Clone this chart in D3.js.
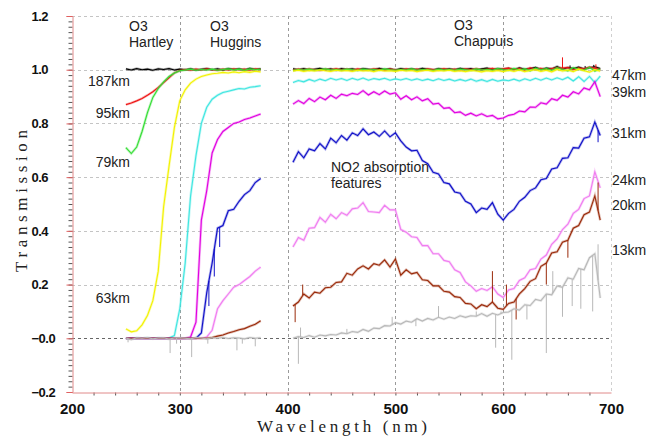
<!DOCTYPE html>
<html>
<head>
<meta charset="utf-8">
<script src="https://cdn.jsdelivr.net/npm/d3@7"></script>
<style>
    body { margin: 0; background: #fff; }
    svg { display: block; font-family: "Liberation Sans", Arial, sans-serif; }
</style>
</head>
<body>
<div id="chart"></div>
<script>
// sampling grid of the two spectrometer channels (nm)
let uvWavelengths = [250, 255, 260, 265, 270, 275, 280, 285, 290, 295, 300, 305, 310,
    315, 320, 325, 330, 335, 340, 345, 350, 355, 360, 365, 370, 375];
let visWavelengths = [405, 410, 415, 420, 425, 430, 435, 440, 445, 450,
    455, 460, 465, 470, 475, 480, 485, 490, 495, 500,
    505, 510, 515, 520, 525, 530, 535, 540, 545, 550,
    555, 560, 565, 570, 575, 580, 585, 590, 595, 600,
    605, 610, 615, 620, 625, 630, 635, 640, 645, 650,
    655, 660, 665, 670, 675, 680, 685, 690];

// transmission per tangent altitude
let t187Uv = [1.003, 0.999, 1.004, 1.0, 1.002, 0.998, 1.003, 1.001, 1.004, 0.999, 1.002, 1.0, 1.003,
    0.999, 1.002, 1.004, 1.0, 1.003, 0.999, 1.004, 1.001, 1.003, 0.999, 1.005, 1.001, 1.003];
let t187Vis = [1.003, 1.0, 1.004, 0.999, 1.002, 1.005, 1.0, 1.003, 0.998, 1.004,
    1.001, 1.003, 0.999, 1.004, 1.002, 1.0, 1.005, 1.001, 1.003, 0.999,
    1.004, 1.001, 1.003, 1.0, 1.005, 1.002, 0.999, 1.004, 1.001, 1.003,
    1.0, 1.005, 1.002, 1.004, 0.999, 1.003, 1.006, 1.0, 1.004, 1.002,
    1.005, 1.0, 1.007, 1.002, 1.004, 1.009, 1.001, 1.006, 1.003, 1.012,
    1.002, 1.008, 1.004, 1.01, 1.003, 1.007, 1.011, 1.004];

let t95Uv = [0.87, 0.876, 0.884, 0.893, 0.905, 0.918, 0.934, 0.952, 0.97, 0.988, 0.997, 1.001, 0.998,
    1.002, 0.999, 1.003, 1.0, 0.998, 1.002, 0.999, 1.003, 1.0, 1.002, 0.998, 1.003, 1.001];
let t95Vis = [0.998, 1.002, 0.999, 1.003, 1.0, 0.997, 1.002, 1.0, 1.004, 0.999,
    1.002, 0.998, 1.003, 1.0, 0.999, 1.003, 1.001, 0.998, 1.002, 1.0,
    0.999, 1.003, 1.0, 1.002, 0.998, 1.003, 1.001, 0.999, 1.004, 1.0,
    1.002, 0.998, 1.003, 1.0, 1.004, 0.999, 1.002, 1.005, 1.0, 1.003,
    1.006, 1.001, 1.004, 0.998, 1.007, 1.002, 1.005, 1.0, 1.004, 1.006,
    1.006, 1.008, 1.0, 1.006, 1.003, 1.01, 1.005, 1.0];

let t79Uv = [0.71, 0.688, 0.712, 0.77, 0.84, 0.897, 0.93, 0.955, 0.975, 0.988, 0.996, 0.999, 1.002,
    0.998, 1.001, 0.999, 1.002, 0.998, 1.001, 1.003, 0.999, 1.002, 0.998, 1.003, 1.0, 1.002];
let t79Vis = [0.997, 1.001, 0.999, 1.002, 0.998, 1.0, 1.003, 0.999, 1.001, 0.998,
    1.002, 1.0, 0.997, 1.002, 0.999, 1.001, 0.998, 1.003, 1.0, 0.998,
    1.001, 0.999, 1.003, 0.998, 1.001, 1.0, 0.997, 1.002, 0.999, 1.001,
    0.998, 1.002, 1.0, 0.997, 1.003, 0.999, 1.001, 0.998, 1.004, 1.0,
    0.997, 1.005, 0.999, 1.003, 0.996, 1.006, 1.0, 1.004, 0.997, 1.007,
    1.001, 0.996, 1.008, 1.002, 0.998, 1.009, 0.995, 1.003];

let t63Uv = [0.035, 0.024, 0.028, 0.05, 0.085, 0.14, 0.25, 0.49, 0.64, 0.785, 0.885, 0.925, 0.95,
    0.965, 0.975, 0.98, 0.985, 0.987, 0.99, 0.988, 0.992, 0.989, 0.993, 0.99, 0.994, 0.992];
let t63Vis = [0.995, 0.998, 0.994, 0.997, 0.995, 0.999, 0.996, 0.994, 0.998, 0.995,
    0.997, 0.994, 0.998, 0.995, 0.997, 0.993, 0.998, 0.995, 0.996, 0.994,
    0.998, 0.995, 0.997, 0.993, 0.996, 0.998, 0.994, 0.997, 0.995, 0.998,
    0.994, 0.996, 0.993, 0.997, 0.995, 0.992, 0.996, 0.994, 0.997, 0.993,
    0.998, 0.994, 0.999, 0.993, 0.997, 1.0, 0.994, 0.998, 0.992, 1.001,
    0.995, 0.999, 0.993, 1.002, 0.996, 0.991, 1.0, 0.994];

let t47Uv = [0, 0, 0.001, 0, 0.001, 0, 0.001, 0, 0.001, 0.01, 0.11, 0.28, 0.53,
    0.68, 0.8, 0.86, 0.89, 0.905, 0.915, 0.92, 0.925, 0.93, 0.928, 0.935, 0.937, 0.94];
let t47Vis = [0.952, 0.96, 0.955, 0.964, 0.957, 0.965, 0.959, 0.968, 0.962, 0.967,
    0.96, 0.968, 0.962, 0.969, 0.961, 0.967, 0.963, 0.968, 0.961, 0.966,
    0.962, 0.967, 0.961, 0.966, 0.96, 0.965, 0.959, 0.966, 0.96, 0.965,
    0.958, 0.964, 0.958, 0.965, 0.957, 0.963, 0.956, 0.964, 0.957, 0.962,
    0.959, 0.965, 0.958, 0.966, 0.96, 0.968, 0.961, 0.969, 0.962, 0.97,
    0.963, 0.972, 0.958, 0.974, 0.956, 0.975, 0.952, 0.976];

let t39Uv = [0, 0, 0, 0, 0, 0, 0, 0, 0, 0, 0, 0, 0.005,
    0.06, 0.44, 0.55, 0.69, 0.74, 0.77, 0.785, 0.8, 0.805, 0.815, 0.82, 0.828, 0.835];
let t39Vis = [0.872, 0.885, 0.874, 0.893, 0.881, 0.898, 0.888, 0.905, 0.893, 0.909,
    0.903, 0.912, 0.908, 0.922, 0.906, 0.918, 0.907, 0.921, 0.909, 0.914,
    0.89, 0.903, 0.888, 0.899, 0.884, 0.892, 0.872, 0.875, 0.856, 0.859,
    0.84, 0.843, 0.83, 0.838, 0.828, 0.836, 0.826, 0.83, 0.817, 0.82,
    0.83, 0.834, 0.846, 0.843, 0.861, 0.86, 0.877, 0.872, 0.892, 0.886,
    0.905, 0.898, 0.918, 0.91, 0.932, 0.925, 0.955, 0.9];

let t31Uv = [0, 0, 0, 0, 0, 0, 0, 0, 0, 0, 0, 0, 0,
    0, 0.02, 0.17, 0.28, 0.41, 0.42, 0.475, 0.48, 0.51, 0.535, 0.55, 0.58, 0.595];
let t31Vis = [0.655, 0.695, 0.672, 0.705, 0.698, 0.725, 0.705, 0.745, 0.728, 0.755,
    0.738, 0.765, 0.755, 0.78, 0.758, 0.768, 0.752, 0.772, 0.75, 0.765,
    0.735, 0.712, 0.698, 0.7, 0.662, 0.65, 0.618, 0.612, 0.58, 0.575,
    0.545, 0.54, 0.51, 0.5, 0.468, 0.485, 0.48, 0.505, 0.462, 0.44,
    0.465, 0.48, 0.51, 0.525, 0.55, 0.56, 0.59, 0.595, 0.63, 0.635,
    0.67, 0.672, 0.71, 0.708, 0.745, 0.75, 0.805, 0.755];

let t24Uv = [0, 0, 0, 0, 0, 0, 0, 0, 0, 0, 0, 0, 0,
    0, 0, 0.005, 0.03, 0.11, 0.14, 0.165, 0.19, 0.2, 0.215, 0.23, 0.25, 0.265];
let t24Vis = [0.34, 0.375, 0.365, 0.41, 0.412, 0.45, 0.432, 0.462, 0.445, 0.468,
    0.458, 0.482, 0.485, 0.505, 0.472, 0.47, 0.468, 0.495, 0.478, 0.478,
    0.405, 0.395, 0.378, 0.375, 0.345, 0.345, 0.315, 0.315, 0.29, 0.285,
    0.255, 0.245, 0.21, 0.195, 0.175, 0.185, 0.178, 0.192, 0.165, 0.152,
    0.18, 0.185, 0.215, 0.225, 0.255, 0.26, 0.295, 0.31, 0.35, 0.37,
    0.405, 0.425, 0.465, 0.48, 0.52, 0.53, 0.62, 0.56];

let t20Uv = [0, 0, 0, 0, 0, 0, 0, 0, 0, 0, 0, 0, 0,
    0, 0, 0, 0.003, 0.008, 0.012, 0.02, 0.025, 0.032, 0.036, 0.045, 0.052, 0.065];
let t20Vis = [0.12, 0.135, 0.165, 0.15, 0.172, 0.168, 0.188, 0.19, 0.208, 0.21,
    0.242, 0.235, 0.258, 0.27, 0.258, 0.278, 0.272, 0.292, 0.265, 0.295,
    0.235, 0.255, 0.24, 0.245, 0.218, 0.215, 0.195, 0.195, 0.175, 0.172,
    0.155, 0.152, 0.13, 0.128, 0.11, 0.125, 0.118, 0.135, 0.112, 0.108,
    0.13, 0.135, 0.165, 0.185, 0.212, 0.222, 0.268, 0.28, 0.318, 0.322,
    0.358, 0.365, 0.41, 0.42, 0.46, 0.47, 0.53, 0.44];

let t13Uv = [0.001, -0.005, 0.002, 0, 0.003, -0.002, 0.001, 0.002, -0.003, 0.001, 0.002, 0, -0.002,
    0.003, 0.001, -0.002, 0.002, 0, 0.003, -0.001, 0.002, 0.001, -0.002, 0.003, 0, 0.002];
let t13Vis = [0.0, 0.006, 0.003, 0.01, 0.004, 0.012, 0.009, 0.014, 0.012, 0.02,
    0.017, 0.025, 0.022, 0.033, 0.026, 0.038, 0.036, 0.047, 0.046, 0.058,
    0.053, 0.064, 0.06, 0.073, 0.064, 0.074, 0.068, 0.078, 0.071, 0.079,
    0.074, 0.084, 0.078, 0.084, 0.082, 0.092, 0.082, 0.093, 0.087, 0.096,
    0.098, 0.11, 0.105, 0.125, 0.122, 0.145, 0.14, 0.165, 0.162, 0.195,
    0.19, 0.225, 0.22, 0.26, 0.255, 0.3, 0.315, 0.15];

// single-pixel noise spikes [wavelength, tip value]
let spikes187 = [[662, 1.016], [676, 1.014], [684, 1.018]];
let spikes95 = [[655, 1.046], [686, 1.02]];
let spikes31 = [[327, 0.12], [332, 0.23], [337, 0.34], [688, 0.73]];
let spikes20 = [[407, 0.06], [414, 0.2], [590, 0.25], [603, 0.2], [612, 0.07], [640, 0.2],
    [660, 0.3], [688, 0.58]];
let spikes13 = [[252, -0.015], [291, -0.055], [297, -0.02], [311, -0.07], [326, -0.02], [353, -0.045],
    [358, -0.02], [370, -0.03], [410, -0.095], [412, 0.04], [455, 0.035], [497, 0.08], [519, 0.045],
    [540, 0.12], [575, 0.1], [593, -0.035], [598, 0.1], [608, -0.08], [622, 0.07], [640, -0.055],
    [646, 0.25], [655, 0.08], [664, 0.12], [672, 0.11], [683, 0.1], [688, 0.35]];

let altitudes = ["187km", "95km", "79km", "63km", "47km", "39km", "31km", "24km", "20km", "13km"];
let colors = ["#000000", "#ee1515", "#33dd33", "#f2f200", "#3ee6e0", "#e000e0", "#1010c8", "#f07cf0", "#9a2a0a", "#b8b8b8"];
let uvValues = [t187Uv, t95Uv, t79Uv, t63Uv, t47Uv, t39Uv, t31Uv, t24Uv, t20Uv, t13Uv];
let visValues = [t187Vis, t95Vis, t79Vis, t63Vis, t47Vis, t39Vis, t31Vis, t24Vis, t20Vis, t13Vis];

let xTicks = [200, 300, 400, 500, 600, 700];
let yTicks = [-0.2, 0, 0.2, 0.4, 0.6, 0.8, 1.0, 1.2];
let yTickLabels = ["\u22120.2", "\u22120.0", "0.2", "0.4", "0.6", "0.8", "1.0", "1.2"];

// altitude labels [text, baseline y]
let leftLabels = [["187km", 86], ["95km", 118], ["79km", 167], ["63km", 303]];
let rightLabels = [["47km", 80], ["39km", 97], ["31km", 138], ["24km", 185], ["20km", 210], ["13km", 255]];

const W = 657, H = 437;
const plot = { left: 72, right: 611, top: 16, bottom: 392 };

let svg = d3.select("#chart")
    .append("svg")
    .attr("width", W)
    .attr("height", H);

let x = d3.scaleLinear().domain([200, 700]).range([plot.left, plot.right]);
let y = d3.scaleLinear().domain([-0.2, 1.2]).range([plot.bottom, plot.top]);

// grid
let grid = svg.append("g");
grid.selectAll("line.h")
    .data(yTicks.filter(d => d > -0.2))
    .enter().append("line")
    .attr("x1", plot.left).attr("x2", plot.right)
    .attr("y1", d => Math.round(y(d)) + 0.5).attr("y2", d => Math.round(y(d)) + 0.5)
    .attr("stroke", d => d === 0 ? "#666" : "#c4c4c4")
    .attr("stroke-dasharray", "3,3");
grid.selectAll("line.v")
    .data(xTicks.filter(d => d > 200))
    .enter().append("line")
    .attr("y1", plot.top).attr("y2", plot.bottom)
    .attr("x1", d => Math.round(x(d)) + 0.5).attr("x2", d => Math.round(x(d)) + 0.5)
    .attr("stroke", d => d === 700 ? "#cfcfcf" : "#9a9a9a")
    .attr("stroke-dasharray", "3,3");

// axes
let yMinor = d3.axisLeft(y).tickValues(d3.range(-0.2, 1.2001, 0.02)).tickSize(4).tickFormat("");
let yAxis = d3.axisLeft(y).tickValues(yTicks).tickSize(6).tickFormat((d, i) => yTickLabels[i]);
let xMinor = d3.axisBottom(x).tickValues(d3.range(220, 700, 20)).tickSize(3).tickFormat("");
let xAxis = d3.axisBottom(x).tickValues(xTicks).tickSize(0).tickPadding(11);

let gyMinor = svg.append("g").attr("transform", `translate(${plot.left + 0.5},0)`).call(yMinor);
gyMinor.select(".domain").remove();
gyMinor.selectAll("line").attr("stroke", "#555");

let gy = svg.append("g").attr("transform", `translate(${plot.left + 0.5},0)`).call(yAxis);
gy.select(".domain").attr("stroke", "#e08a8a");
gy.selectAll("line").attr("stroke", "#e06060");
gy.selectAll("text")
    .attr("text-anchor", "start")
    .attr("x", 31 - plot.left)
    .attr("fill", "#111")
    .style("font-size", "13px")
    .style("font-weight", "bold")
    .style("letter-spacing", "-0.5px");

let gxMinor = svg.append("g").attr("transform", `translate(0,${plot.bottom + 0.5})`).call(xMinor);
gxMinor.select(".domain").remove();
gxMinor.selectAll("line").attr("stroke", "#555");

let gx = svg.append("g").attr("transform", `translate(0,${plot.bottom + 0.5})`).call(xAxis);
gx.select(".domain").attr("stroke", "#e08a8a");
gx.selectAll("text")
    .attr("fill", "#111")
    .style("font-size", "15px")
    .style("font-weight", "bold");

// spectra: each altitude is two pieces (UV and visible channel)
let line = d3.line().x(d => x(d[0])).y(d => y(d[1]));
let curves = svg.append("g");

let valueAt = (i, w) => {
    let wls = w < 390 ? uvWavelengths : visWavelengths;
    let vals = w < 390 ? uvValues[i] : visValues[i];
    let j = Math.max(1, Math.min(wls.length - 1, d3.bisectLeft(wls, w)));
    let t = (w - wls[j - 1]) / (wls[j] - wls[j - 1]);
    return vals[j - 1] + t * (vals[j] - vals[j - 1]);
};

let drawSpikes = (list, i) => {
    curves.append("g").selectAll("line")
        .data(list)
        .enter().append("line")
        .attr("x1", d => x(d[0])).attr("x2", d => x(d[0]))
        .attr("y1", d => y(valueAt(i, d[0]))).attr("y2", d => y(d[1]))
        .attr("stroke", colors[i])
        .attr("stroke-width", 1);
};

let spikeSets = { 0: spikes187, 1: spikes95, 6: spikes31, 8: spikes20, 9: spikes13 };

altitudes.forEach((alt, i) => {
    let segs = [d3.zip(uvWavelengths, uvValues[i]), d3.zip(visWavelengths, visValues[i])];
    segs.forEach(seg => {
        curves.append("path")
            .attr("d", line(seg))
            .attr("fill", "none")
            .attr("stroke", colors[i])
            .attr("stroke-opacity", 0.3)
            .attr("stroke-width", 2.6);
        curves.append("path")
            .attr("d", line(seg))
            .attr("fill", "none")
            .attr("stroke", colors[i])
            .attr("stroke-width", 1.1);
    });
    if (spikeSets[i]) drawSpikes(spikeSets[i], i);
});

// annotations
let notes = svg.append("g")
    .attr("fill", "#222")
    .style("font-size", "14px");

let addText = (txt, tx, ty, anchor) => notes.append("text")
    .attr("x", tx).attr("y", ty)
    .attr("text-anchor", anchor || "start")
    .text(txt);

addText("O3", 129, 31); addText("Hartley", 129, 47);
addText("O3", 210, 31); addText("Huggins", 210, 47);
addText("O3", 454, 30); addText("Chappuis", 454, 46);
addText("NO2 absorption", 331, 172); addText("features", 331, 188);

leftLabels.forEach(d => addText(d[0], 130, d[1], "end"));
rightLabels.forEach(d => addText(d[0], 612, d[1]));

// axis titles
svg.append("text")
    .attr("x", 342).attr("y", 432)
    .attr("text-anchor", "middle")
    .attr("textLength", 170)
    .attr("lengthAdjust", "spacing")
    .attr("fill", "#222")
    .style("font-family", "'Liberation Serif', serif")
    .style("font-size", "17px")
    .text("Wavelength (nm)");

svg.append("text")
    .attr("transform", "translate(27,201) rotate(-90)")
    .attr("text-anchor", "middle")
    .attr("textLength", 142)
    .attr("lengthAdjust", "spacing")
    .attr("fill", "#222")
    .style("font-family", "'Liberation Serif', serif")
    .style("font-size", "17px")
    .text("Transmission");
</script>
</body>
</html>
